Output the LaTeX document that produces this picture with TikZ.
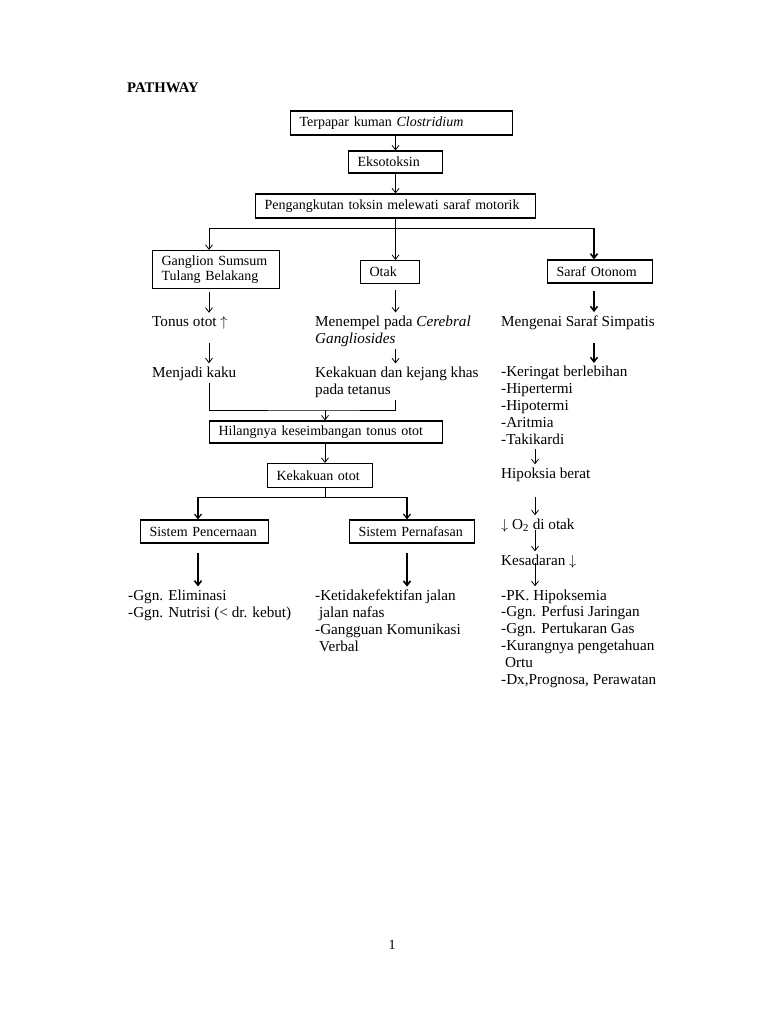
\documentclass[tikz,border=0pt]{standalone}
\usepackage{fontspec}
\setmainfont{Liberation Serif}
\usetikzlibrary{arrows,arrows.meta,calc,positioning}

\begin{document}
\begin{tikzpicture}[x=1pt,y=-1pt,>={Straight Barb[length=4.5pt,width=7pt]},
  kotak/.style={draw,line width=1.1pt,anchor=west,inner xsep=9pt,inner ysep=0pt,
    align=left,font={\fontsize{14}{15.5}\selectfont\hyphenpenalty=10000\relax}},
  teks/.style={anchor=base west,inner xsep=0pt,inner ysep=3pt,align=left,
    font=\fontsize{15.2}{16.8}\selectfont},
  garis/.style={line width=0.8pt},
  panah/.style={->,line width=0.8pt},
  tebal/.style={->,line width=1.6pt}]
  \useasboundingbox (0,0) rectangle (768,1024);

  \node [anchor=base west,inner sep=0pt,font=\bfseries\fontsize{14.7}{16}\selectfont]
    (judul) at (127,93) {PATHWAY};

  % kotak-kotak utama
  \node [kotak,text width=204pt,minimum height=24pt] (terpapar)   at (290,123)   {Terpapar kuman \textit{Clostridium}};
  \node [kotak,text width=76pt,minimum height=22pt]  (eksotoksin) at (348,162)   {Eksotoksin};
  \node [kotak,text width=262pt,minimum height=24pt] (angkut)     at (255,206)   {Pengangkutan toksin melewati saraf motorik};
  \node [kotak,text width=109pt,minimum height=38pt] (ganglion)   at (152,269.5) {Ganglion Sumsum\\Tulang Belakang};
  \node [kotak,text width=41pt,minimum height=23pt]  (otak)       at (360,272)   {Otak};
  \node [kotak,text width=87pt,minimum height=23pt]  (otonom)     at (547,271.5) {Saraf Otonom};
  \node [kotak,text width=215pt,minimum height=22pt] (hilang)     at (209,432)   {Hilangnya keseimbangan tonus otot};
  \node [kotak,text width=87pt,minimum height=24pt]  (kekakuan)   at (267,475.5) {Kekakuan otot};
  \node [kotak,text width=110pt,minimum height=23pt] (cerna)      at (140,531.5) {Sistem Pencernaan};
  \node [kotak,text width=107pt,minimum height=23pt] (nafas)      at (349,531.5) {Sistem Pernafasan};

  % teks bebas (titik = garis dasar baris terakhir)
  \node [teks] (tonus)    at (152,326) {Tonus otot $\uparrow$};
  \node [teks] (kaku)     at (152,377) {Menjadi kaku};
  \node [teks] (menempel) at (315,343) {Menempel pada \textit{Cerebral}\\\textit{Gangliosides}};
  \node [teks] (kejang)   at (315,394) {Kekakuan dan kejang khas\\pada tetanus};
  \node [teks] (simpatis) at (501,326) {Mengenai Saraf Simpatis};
  \node [teks] (gejala)   at (501,444) {-Keringat berlebihan\\-Hipertermi\\-Hipotermi\\-Aritmia\\-Takikardi};
  \node [teks] (hipoksia) at (501,478) {Hipoksia berat};
  \node [teks] (oksigen)  at (501,529) {$\downarrow$ O\textsubscript{2} di otak};
  \node [teks] (sadar)    at (501,565) {Kesadaran $\downarrow$};
  \node [teks] (diagnosa) at (501,684) {-PK. Hipoksemia\\-Ggn. Perfusi Jaringan\\-Ggn. Pertukaran Gas\\-Kurangnya pengetahuan\\\hspace*{4pt}Ortu\\-Dx,Prognosa, Perawatan};
  \node [teks] (cernadx)  at (128,617) {-Ggn. Eliminasi\\-Ggn. Nutrisi (< dr. kebut)};
  \node [teks] (nafasdx)  at (315,651) {-Ketidakefektifan jalan\\\hspace*{4pt}jalan nafas\\-Gangguan Komunikasi\\\hspace*{4pt}Verbal};

  \node [anchor=base,inner sep=0pt,font=\fontsize{14}{16}\selectfont] (halaman) at (392,949) {1};

  % titik bantu
  \coordinate (kiri)       at (209,228);
  \coordinate (kanan)      at (594,228);
  \coordinate (gabung)     at (325,410);
  \coordinate (kolom)      at (535,0);
  \coordinate (bawahkiri)  at (198,497);
  \coordinate (bawahkanan) at (407,497);

  \path[panah] (eksotoksin.north |- terpapar.south) edge (eksotoksin.north)
               (eksotoksin.south) edge (angkut.north)
               (angkut.south) edge (angkut.south |- otak.north);

  \draw[garis] (kiri) -- (kanan);
  \draw[panah] (kiri) -- (kiri |- ganglion.north);
  \draw[tebal] (kanan) -- (kanan |- otonom.north);

  \path[panah] (kiri |- ganglion.south) edge[shorten <=3pt] (kiri |- tonus.north)
               (kiri |- tonus.south) edge[shorten <=11pt] (kiri |- kaku.north)
               (angkut.south |- otak.south) edge[shorten <=6pt] (angkut.south |- menempel.north)
               (angkut.south |- menempel.south) edge (angkut.south |- kejang.north);

  \path[tebal] (kanan |- otonom.south) edge[shorten <=7pt] (kanan |- simpatis.north)
               (kanan |- simpatis.south) edge[shorten <=11pt] (kanan |- gejala.north);

  \path[panah] (kolom |- gejala.south) edge[shorten <=2pt] (kolom |- hipoksia.north)
               (kolom |- hipoksia.south) edge[shorten <=13pt] (kolom |- oksigen.north)
               (kolom |- oksigen.south) edge[shorten <=-5pt] (kolom |- sadar.north)
               (kolom |- sadar.south) edge[shorten <=-8pt] (kolom |- diagnosa.north);

  \draw[garis] (kiri |- kaku.south) |- (gabung) -| (angkut.south |- kejang.south);
  \draw[panah] (gabung) -- (gabung |- hilang.north);
  \draw[panah] (gabung |- hilang.south) -- (gabung |- kekakuan.north);

  \draw[garis] (gabung |- kekakuan.south) -- (gabung |- bawahkiri);
  \draw[garis] (bawahkiri) -- (bawahkanan);
  \draw[panah,line width=1.2pt] (bawahkiri) -- (bawahkiri |- cerna.north);
  \draw[panah,line width=1.2pt] (bawahkanan) -- (bawahkanan |- nafas.north);

  \path[tebal] (bawahkiri |- cerna.south) edge[shorten <=9pt] (bawahkiri |- cernadx.north)
               (bawahkanan |- nafas.south) edge[shorten <=9pt] (bawahkanan |- nafasdx.north);
\end{tikzpicture}
\end{document}
